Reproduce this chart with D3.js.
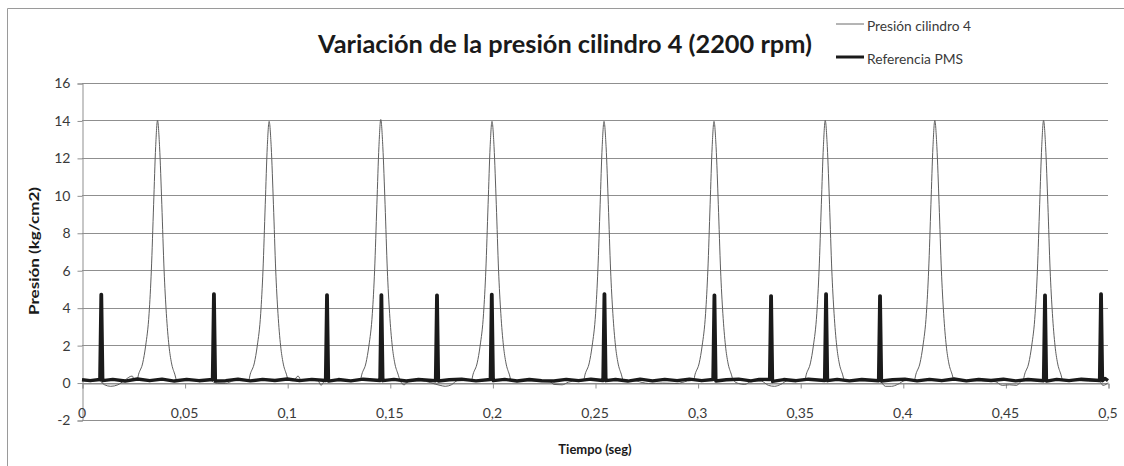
<!DOCTYPE html>
<html>
<head>
<meta charset="utf-8">
<script src="https://cdn.jsdelivr.net/npm/d3@7"></script>
<style>
  html, body { margin: 0; padding: 0; background: #ffffff; }
  svg { display: block; }
  text { font-family: Lato, "Open Sans", "DejaVu Sans", sans-serif; }
</style>
</head>
<body>
<svg id="chart" width="1124" height="466"></svg>
<script>
// ---------- DATA ----------
const chartTitle = "Variación de la presión cilindro 4 (2200 rpm)";
const xTitle = "Tiempo (seg)";
const yTitle = "Presión (kg/cm2)";
const seriesNames = ["Presión cilindro 4", "Referencia PMS"];

const xTicks = [0, 0.05, 0.1, 0.15, 0.2, 0.25, 0.3, 0.35, 0.4, 0.45, 0.5];
const xTickLabels = ["0", "0,05", "0,1", "0,15", "0,2", "0,25", "0,3", "0,35", "0,4", "0,45", "0,5"];
const yTicks = [-2, 0, 2, 4, 6, 8, 10, 12, 14, 16];
const yTickLabels = ["-2", "0", "2", "4", "6", "8", "10", "12", "14", "16"];

// Presión cilindro 4: [tiempo (s), presión (kg/cm2)]
const presionCilindro = [
  [0, 0.1], [0.0080, 0.12], [0.0110, -0.12], [0.0140, -0.2], [0.0175, -0.12], [0.0205, 0.1], [0.0245, 0.35], [0.0255, 0.12],
  [0.0268, 0.12], [0.0276, 0.45], [0.0296, 1.05], [0.0310, 1.95], [0.0327, 3.7], [0.0338, 6.0], [0.0349, 9.5], [0.0359, 12.6],
  [0.0368, 14.0], [0.0378, 12.6], [0.0389, 9.5], [0.0400, 6.0], [0.0411, 3.7], [0.0424, 1.95], [0.0436, 1.05], [0.0452, 0.45], [0.0462, 0.12],
  [0.0500, 0.1], [0.0620, 0.12], [0.0660, -0.05], [0.0700, -0.05], [0.0740, 0.1], [0.0790, 0.1],
  [0.0812, 0.12], [0.0820, 0.45], [0.0840, 1.05], [0.0854, 1.95], [0.0871, 3.7], [0.0882, 6.0], [0.0893, 9.5], [0.0903, 12.6],
  [0.0912, 13.95], [0.0922, 12.6], [0.0933, 9.5], [0.0944, 6.0], [0.0955, 3.7], [0.0968, 1.95], [0.0980, 1.05], [0.0996, 0.45], [0.1006, 0.12],
  [0.1030, 0.1], [0.1053, 0.35], [0.1068, 0.12], [0.1150, 0.1], [0.1165, -0.15], [0.1180, 0.05], [0.1230, 0.1], [0.1330, 0.1],
  [0.1356, 0.12], [0.1364, 0.45], [0.1384, 1.05], [0.1398, 1.95], [0.1415, 3.7], [0.1426, 6.0], [0.1437, 9.5], [0.1447, 12.6],
  [0.1456, 14.05], [0.1466, 12.6], [0.1477, 9.5], [0.1488, 6.0], [0.1499, 3.7], [0.1512, 1.95], [0.1524, 1.05], [0.1540, 0.45], [0.1550, 0.12],
  [0.1570, -0.12], [0.1590, 0.05], [0.1650, 0.1], [0.1745, -0.15], [0.1770, -0.2], [0.1800, -0.12], [0.1830, 0.1], [0.1870, 0.1],
  [0.1898, 0.12], [0.1906, 0.45], [0.1926, 1.05], [0.1940, 1.95], [0.1957, 3.7], [0.1968, 6.0], [0.1979, 9.5], [0.1989, 12.6],
  [0.1998, 13.95], [0.2008, 12.6], [0.2019, 9.5], [0.2030, 6.0], [0.2041, 3.7], [0.2054, 1.95], [0.2066, 1.05], [0.2082, 0.45], [0.2092, 0.12],
  [0.2150, 0.1], [0.2280, 0.05], [0.2300, -0.1], [0.2340, -0.12], [0.2370, 0.02], [0.2410, 0.1],
  [0.2444, 0.12], [0.2452, 0.45], [0.2472, 1.05], [0.2486, 1.95], [0.2503, 3.7], [0.2514, 6.0], [0.2525, 9.5], [0.2535, 12.6],
  [0.2544, 13.95], [0.2554, 12.6], [0.2565, 9.5], [0.2576, 6.0], [0.2587, 3.7], [0.2600, 1.95], [0.2612, 1.05], [0.2628, 0.45], [0.2638, 0.12],
  [0.2700, 0.08], [0.2760, -0.05], [0.2830, -0.03], [0.2900, -0.05], [0.2950, 0.08],
  [0.2980, 0.12], [0.2988, 0.45], [0.3008, 1.05], [0.3022, 1.95], [0.3039, 3.7], [0.3050, 6.0], [0.3061, 9.5], [0.3071, 12.6],
  [0.3080, 13.95], [0.3090, 12.6], [0.3101, 9.5], [0.3112, 6.0], [0.3123, 3.7], [0.3136, 1.95], [0.3148, 1.05], [0.3164, 0.45], [0.3174, 0.12],
  [0.3200, -0.05], [0.3230, -0.1], [0.3260, 0.05], [0.3310, 0.08], [0.3345, -0.15], [0.3375, -0.2], [0.3405, -0.1], [0.3440, 0.1], [0.3500, 0.1],
  [0.3522, 0.12], [0.3530, 0.45], [0.3550, 1.05], [0.3564, 1.95], [0.3581, 3.7], [0.3592, 6.0], [0.3603, 9.5], [0.3613, 12.6],
  [0.3622, 14.0], [0.3632, 12.6], [0.3643, 9.5], [0.3654, 6.0], [0.3665, 3.7], [0.3678, 1.95], [0.3690, 1.05], [0.3706, 0.45], [0.3716, 0.12],
  [0.3800, 0.1], [0.3890, 0.05], [0.3915, -0.2], [0.3945, -0.2], [0.3975, -0.1], [0.4010, 0.1],
  [0.4056, 0.12], [0.4064, 0.45], [0.4084, 1.05], [0.4098, 1.95], [0.4115, 3.7], [0.4126, 6.0], [0.4137, 9.5], [0.4147, 12.6],
  [0.4156, 14.0], [0.4166, 12.6], [0.4177, 9.5], [0.4188, 6.0], [0.4199, 3.7], [0.4212, 1.95], [0.4224, 1.05], [0.4240, 0.45], [0.4250, 0.12],
  [0.4320, 0.1], [0.4450, 0.05], [0.4485, -0.15], [0.4520, -0.12], [0.4555, -0.15], [0.4575, 0.05],
  [0.4586, 0.12], [0.4594, 0.45], [0.4614, 1.05], [0.4628, 1.95], [0.4645, 3.7], [0.4656, 6.0], [0.4667, 9.5], [0.4677, 12.6],
  [0.4686, 14.0], [0.4696, 12.6], [0.4707, 9.5], [0.4718, 6.0], [0.4729, 3.7], [0.4742, 1.95], [0.4754, 1.05], [0.4770, 0.45], [0.4780, 0.12],
  [0.4850, 0.1], [0.4960, 0.05], [0.4975, -0.15], [0.4990, -0.1], [0.5, 0.0]
];

// Referencia PMS: [tiempo (s), señal]
const referenciaPMS = [
  [0, 0.15], [0.004, 0.1], [0.0087, 0.16], [0.0093, 4.7], [0.0095, 4.7], [0.0101, 0.1],
  [0.015, 0.17], [0.021, 0.08], [0.027, 0.19], [0.033, 0.1], [0.039, 0.18], [0.045, 0.08], [0.051, 0.17], [0.057, 0.1],
  [0.0636, 0.16], [0.0642, 4.73], [0.0644, 4.73], [0.0650, 0.08],
  [0.070, 0.1], [0.076, 0.18], [0.082, 0.09], [0.088, 0.17], [0.094, 0.11], [0.100, 0.19], [0.106, 0.1], [0.112, 0.17],
  [0.1187, 0.11], [0.1193, 4.68], [0.1195, 4.68], [0.1201, 0.08],
  [0.125, 0.16], [0.131, 0.09], [0.137, 0.18],
  [0.1452, 0.11], [0.1458, 4.68], [0.1460, 4.68], [0.1466, 0.1],
  [0.152, 0.17], [0.158, 0.08], [0.164, 0.16],
  [0.1723, 0.1], [0.1729, 4.66], [0.1731, 4.66], [0.1737, 0.08],
  [0.179, 0.15], [0.185, 0.18], [0.192, 0.09],
  [0.1990, 0.16], [0.1996, 4.7], [0.1998, 4.7], [0.2004, 0.1],
  [0.206, 0.17], [0.212, 0.08], [0.218, 0.16], [0.224, 0.1], [0.230, 0.08], [0.236, 0.17], [0.242, 0.1], [0.248, 0.18],
  [0.2539, 0.11], [0.2545, 4.73], [0.2547, 4.73], [0.2553, 0.1],
  [0.260, 0.16], [0.266, 0.08], [0.272, 0.18], [0.278, 0.09], [0.284, 0.17], [0.290, 0.1], [0.296, 0.18], [0.302, 0.1],
  [0.3075, 0.16], [0.3081, 4.66], [0.3083, 4.66], [0.3089, 0.08],
  [0.314, 0.15], [0.320, 0.18], [0.326, 0.09], [0.330, 0.17],
  [0.3351, 0.16], [0.3357, 4.63], [0.3359, 4.63], [0.3365, 0.06],
  [0.342, 0.16], [0.348, 0.1], [0.354, 0.18],
  [0.3619, 0.11], [0.3625, 4.73], [0.3627, 4.73], [0.3633, 0.1],
  [0.368, 0.17], [0.374, 0.09], [0.380, 0.16],
  [0.3882, 0.1], [0.3888, 4.63], [0.3890, 4.63], [0.3896, 0.08],
  [0.395, 0.15], [0.401, 0.18], [0.407, 0.09], [0.413, 0.17], [0.419, 0.1], [0.425, 0.19], [0.431, 0.09], [0.437, 0.17],
  [0.443, 0.11], [0.449, 0.18], [0.455, 0.09], [0.461, 0.16],
  [0.4686, 0.1], [0.4692, 4.66], [0.4694, 4.66], [0.4700, 0.08],
  [0.475, 0.17], [0.481, 0.1], [0.487, 0.18],
  [0.4959, 0.11], [0.4965, 4.73], [0.4967, 4.73], [0.4973, 0.1], [0.4985, 0.22], [0.5, 0.1]
];

// ---------- LAYOUT ----------
const svg = d3.select("#chart");
const W = 1124, H = 466;
const plot = { left: 82, right: 1108, top: 83, bottom: 420 };

const x = d3.scaleLinear().domain([0, 0.5]).range([plot.left, plot.right]);
const y = d3.scaleLinear().domain([-2, 16]).range([plot.bottom, plot.top]);

const gridColor = "#8f8f8f";
const textColor = "#3a3a3a";

// outer chart frame (top and left edges visible)
svg.append("line").attr("x1", 7.5).attr("x2", W).attr("y1", 8.5).attr("y2", 8.5)
  .attr("stroke", "#9a9a9a").attr("stroke-width", 1);
svg.append("line").attr("x1", 7.5).attr("x2", 7.5).attr("y1", 8.5).attr("y2", H)
  .attr("stroke", "#9a9a9a").attr("stroke-width", 1);

// horizontal gridlines
svg.append("g").selectAll("line").data(yTicks).join("line")
  .attr("x1", plot.left).attr("x2", plot.right)
  .attr("y1", d => Math.round(y(d)) + 0.5).attr("y2", d => Math.round(y(d)) + 0.5)
  .attr("stroke", gridColor).attr("stroke-width", 1);

// Y axis
const yAxis = d3.axisLeft(y).tickValues(yTicks)
  .tickFormat((d, i) => yTickLabels[i]).tickSize(5).tickPadding(7);
const gy = svg.append("g").attr("transform", `translate(${plot.left + 0.5},0.5)`).call(yAxis);
gy.select(".domain").attr("stroke", gridColor);
gy.selectAll(".tick line").attr("stroke", gridColor);
gy.selectAll(".tick text").attr("fill", textColor).style("font-size", "14px")
  .style("font-family", "Lato, 'Open Sans', sans-serif");

// X axis at y = 0 with tick marks, labels in low position
const xAxis = d3.axisBottom(x).tickValues(xTicks).tickFormat(() => "").tickSize(5);
const gx = svg.append("g").attr("transform", `translate(0.5,${Math.round(y(0)) + 0.5})`).call(xAxis);
gx.select(".domain").attr("stroke", gridColor);
gx.selectAll(".tick line").attr("stroke", gridColor);

svg.append("g").selectAll("text").data(xTicks).join("text")
  .attr("x", d => x(d)).attr("y", 418)
  .attr("text-anchor", "middle")
  .attr("fill", textColor).style("font-size", "14px")
  .text((d, i) => xTickLabels[i]);

// Lines
const lineGen = d3.line().x(d => x(d[0])).y(d => y(d[1]));
const smoothGen = d3.line().x(d => x(d[0])).y(d => y(d[1])).curve(d3.curveMonotoneX);

svg.append("path").datum(presionCilindro)
  .attr("d", smoothGen)
  .attr("fill", "none").attr("stroke", "#5e5e5e").attr("stroke-width", 1);

svg.append("path").datum(referenciaPMS)
  .attr("d", lineGen)
  .attr("fill", "none").attr("stroke", "#1a1a1a").attr("stroke-width", 3.4)
  .attr("stroke-linejoin", "round");

// Title
svg.append("text").attr("x", 565).attr("y", 53).attr("text-anchor", "middle")
  .attr("fill", "#1a1a1a").style("font-size", "25px").style("font-weight", "bold")
  .attr("textLength", 494).attr("lengthAdjust", "spacingAndGlyphs")
  .text(chartTitle);

// Axis titles
svg.append("text").attr("x", 595).attr("y", 454).attr("text-anchor", "middle")
  .attr("fill", "#1a1a1a").style("font-size", "13px").style("font-weight", "bold")
  .text(xTitle);
svg.append("text").attr("transform", "translate(39,251) rotate(-90)")
  .attr("text-anchor", "middle")
  .attr("fill", "#1a1a1a").style("font-size", "14px").style("font-weight", "bold")
  .attr("textLength", 128).attr("lengthAdjust", "spacingAndGlyphs")
  .text(yTitle);

// Legend
const legendItems = [
  { name: seriesNames[0], color: "#6a6a6a", width: 1, y: 24, base: 30.5, len: 104 },
  { name: seriesNames[1], color: "#1a1a1a", width: 3, y: 57, base: 63.5, len: 96 }
];
const lg = svg.append("g");
lg.selectAll("line").data(legendItems).join("line")
  .attr("x1", 836).attr("x2", 864)
  .attr("y1", d => d.y).attr("y2", d => d.y)
  .attr("stroke", d => d.color).attr("stroke-width", d => d.width);
lg.selectAll("text").data(legendItems).join("text")
  .attr("x", 867).attr("y", d => d.base)
  .attr("fill", textColor).style("font-size", "13px")
  .attr("textLength", d => d.len).attr("lengthAdjust", "spacingAndGlyphs")
  .text(d => d.name);
</script>
</body>
</html>
